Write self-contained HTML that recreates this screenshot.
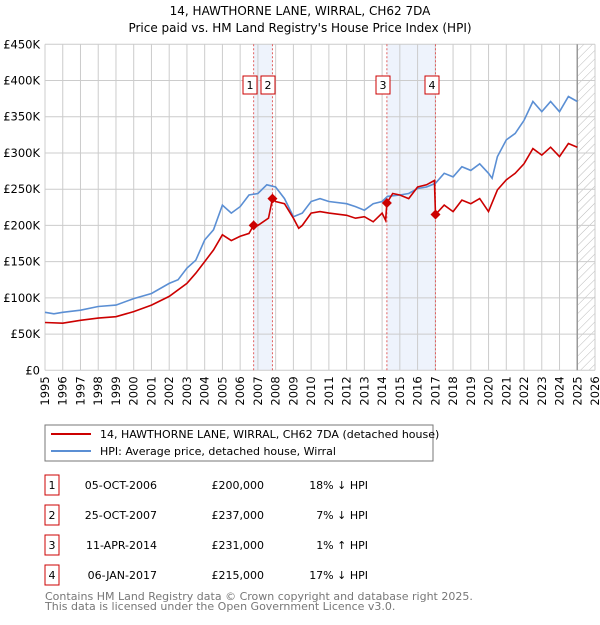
<!DOCTYPE html>
<html><head><meta charset="utf-8">
<style>
body{margin:0;background:#fff;font-family:"Liberation Sans","DejaVu Sans",sans-serif;}
svg text{font-family:"DejaVu Sans","Liberation Sans",sans-serif;}
</style></head>
<body>
<svg id="chart" width="600" height="620" viewBox="0 0 600 620" xmlns="http://www.w3.org/2000/svg">
<text x="300" y="15" text-anchor="middle" font-size="12" fill="#000">14, HAWTHORNE LANE, WIRRAL, CH62 7DA</text>
<text x="300" y="32" text-anchor="middle" font-size="12" fill="#000">Price paid vs. HM Land Registry's House Price Index (HPI)</text>
<defs><pattern id="hatch" width="6" height="6" patternUnits="userSpaceOnUse" patternTransform="rotate(45)"><line x1="0" y1="0" x2="0" y2="6" stroke="#bbb" stroke-width="1"/></pattern></defs>
<g id="plot"></g>
<g id="legend">
<rect x="45" y="425" width="388" height="36" fill="#fff" stroke="#777"/>
<line x1="51" y1="434" x2="91" y2="434" stroke="#cc0000" stroke-width="2"/>
<text x="100" y="438" font-size="11">14, HAWTHORNE LANE, WIRRAL, CH62 7DA (detached house)</text>
<line x1="51" y1="451" x2="91" y2="451" stroke="#5b8fd4" stroke-width="2"/>
<text x="100" y="455" font-size="11">HPI: Average price, detached house, Wirral</text>
</g>
<g id="table"></g>
<text x="45" y="600" font-size="11" fill="#777">Contains HM Land Registry data © Crown copyright and database right 2025.</text>
<text x="45" y="610" font-size="11" fill="#777">This data is licensed under the Open Government Licence v3.0.</text>
</svg>
<script>
const hpiYears=[1995,1995.5,1996,1997,1998,1999,2000,2001,2002,2002.5,2003,2003.5,2004,2004.5,2005,2005.5,2006,2006.5,2007,2007.5,2008,2008.5,2009,2009.5,2010,2010.5,2011,2012,2012.5,2013,2013.5,2014,2014.3,2015,2015.5,2016,2016.5,2017,2017.5,2018,2018.5,2019,2019.5,2020,2020.2,2020.5,2021,2021.5,2022,2022.5,2023,2023.5,2024,2024.5,2025];
const hpiValues=[80,78,80,83,88,90,99,106,120,125,141,152,180,194,228,217,226,242,244,256,253,237,212,217,233,237,233,230,226,221,230,233,240,242,244,251,253,258,272,267,281,276,285,272,265,295,318,327,345,371,357,371,357,378,371];
const priceYears=[1995,1996,1997,1998,1999,2000,2001,2002,2003,2003.5,2004,2004.5,2005,2005.5,2006,2006.5,2006.76,2007,2007.6,2007.82,2008,2008.5,2009,2009.3,2009.5,2010,2010.5,2011,2012,2012.5,2013,2013.5,2014,2014.2,2014.27,2014.6,2015,2015.5,2016,2016.5,2016.95,2017.01,2017.5,2018,2018.5,2019,2019.5,2020,2020.5,2021,2021.5,2022,2022.5,2023,2023.5,2024,2024.5,2025];
const priceValues=[66,65,69,72,74,81,90,102,120,134,150,166,187,179,185,189,200,200,210,237,233,230,210,196,200,217,219,217,214,210,212,205,217,207,231,244,242,237,253,256,262,215,228,219,235,230,237,219,249,263,272,285,306,297,308,295,313,308];
const saleYears=[2006.76,2007.82,2014.27,2017.01];
const saleValues=[200,237,231,215];
const saleLabels=["1","2","3","4"];
const saleDates=["05-OCT-2006","25-OCT-2007","11-APR-2014","06-JAN-2017"];
const salePrices=["£200,000","£237,000","£231,000","£215,000"];
const saleHpi=["18% ↓ HPI","7% ↓ HPI","1% ↑ HPI","17% ↓ HPI"];
const yTicks=[0,50,100,150,200,250,300,350,400,450];
const yTickLabels=["£0","£50K","£100K","£150K","£200K","£250K","£300K","£350K","£400K","£450K"];
const xTicks=[1995,1996,1997,1998,1999,2000,2001,2002,2003,2004,2005,2006,2007,2008,2009,2010,2011,2012,2013,2014,2015,2016,2017,2018,2019,2020,2021,2022,2023,2024,2025,2026];
const labelBoxX=[243,261,376,425];

const X0=45,X1=595,Y0=370.3,Y1=44.3;
const xs=y=>X0+(y-1995)/(2026-1995)*(X1-X0);
const ys=v=>Y0-v/450*(Y0-Y1);
const NS="http://www.w3.org/2000/svg";
const plot=document.getElementById('plot');
function mk(tag,attrs,parent){const e=document.createElementNS(NS,tag);for(const k in attrs)e.setAttribute(k,attrs[k]);(parent||plot).appendChild(e);return e;}

let s=mk('rect',{x:xs(saleYears[0]),y:Y1,width:xs(saleYears[1])-xs(saleYears[0]),height:Y0-Y1,fill:'#eef3fc'});


s=mk('rect',{x:xs(saleYears[2]),y:Y1,width:xs(saleYears[3])-xs(saleYears[2]),height:Y0-Y1,fill:'#eef3fc'});


s=mk('rect',{x:xs(2025),y:Y1,width:X1-xs(2025),height:Y0-Y1,fill:'url(#hatch)'});


yTicks.forEach((v,i)=>{
  const l=mk('line',{x1:X0,x2:X1,y1:ys(v),y2:ys(v),stroke:'#cccccc','stroke-width':1});
  
  
  const t=mk('text',{x:X0-5,y:ys(v)+4,'text-anchor':'end','font-size':11.5});
  t.textContent=yTickLabels[i];
  
  
});
xTicks.forEach(yr=>{
  const l=mk('line',{x1:xs(yr),x2:xs(yr),y1:Y1,y2:Y0,stroke:'#cccccc','stroke-width':1});
  
  
  const t=mk('text',{x:0,y:0,'text-anchor':'end','font-size':11.5,transform:`translate(${xs(yr)+4},${Y0+6}) rotate(-90)`});
  t.textContent=yr;
  
  
});
let b=mk('line',{x1:xs(2025),x2:xs(2025),y1:Y1,y2:Y0,stroke:'#999','stroke-width':1.5});


saleYears.forEach((yr,i)=>{
  const l=mk('line',{x1:xs(yr),x2:xs(yr),y1:Y1,y2:Y0,stroke:'#e06060','stroke-width':1,'stroke-dasharray':'2,2'});
  
  
});
function path(xa,va){return xa.map((y,i)=>(i?'L':'M')+xs(y).toFixed(1)+','+ys(va[i]).toFixed(1)).join('');}
let p=mk('path',{d:path(hpiYears,hpiValues),fill:'none',stroke:'#5b8fd4','stroke-width':1.6});


p=mk('path',{d:path(priceYears,priceValues),fill:'none',stroke:'#cc0000','stroke-width':1.6});


saleYears.forEach((yr,i)=>{
  const cx=xs(yr),cy=ys(saleValues[i]);
  const d=mk('path',{d:`M${cx},${cy-5}L${cx+5},${cy}L${cx},${cy+5}L${cx-5},${cy}Z`,fill:'#cc0000'});
  
  
  const bx=labelBoxX[i];
  const r=mk('rect',{x:bx,y:76,width:14,height:18,fill:'#fff',stroke:'#cc0000'});
  
  
  const t=mk('text',{x:bx+7,y:89,'text-anchor':'middle','font-size':11});
  t.textContent=saleLabels[i];
  
  
});
const tbl=document.getElementById('table');
saleLabels.forEach((lab,i)=>{
  const cy=485+i*30;
  const r=mk('rect',{x:45,y:cy-10,width:14,height:20,fill:'#fff',stroke:'#cc0000'},tbl);
  
  
  const t0=mk('text',{x:52,y:cy+4,'text-anchor':'middle','font-size':11},tbl);t0.textContent=lab;
  
  
  const t1=mk('text',{x:157,y:cy+4,'text-anchor':'end','font-size':11},tbl);t1.textContent=saleDates[i];
  
  
  const t2=mk('text',{x:264,y:cy+4,'text-anchor':'end','font-size':11},tbl);t2.textContent=salePrices[i];
  
  
  const t3=mk('text',{x:368,y:cy+4,'text-anchor':'end','font-size':11},tbl);t3.textContent=saleHpi[i];
  
  
});
</script>
</body></html>
